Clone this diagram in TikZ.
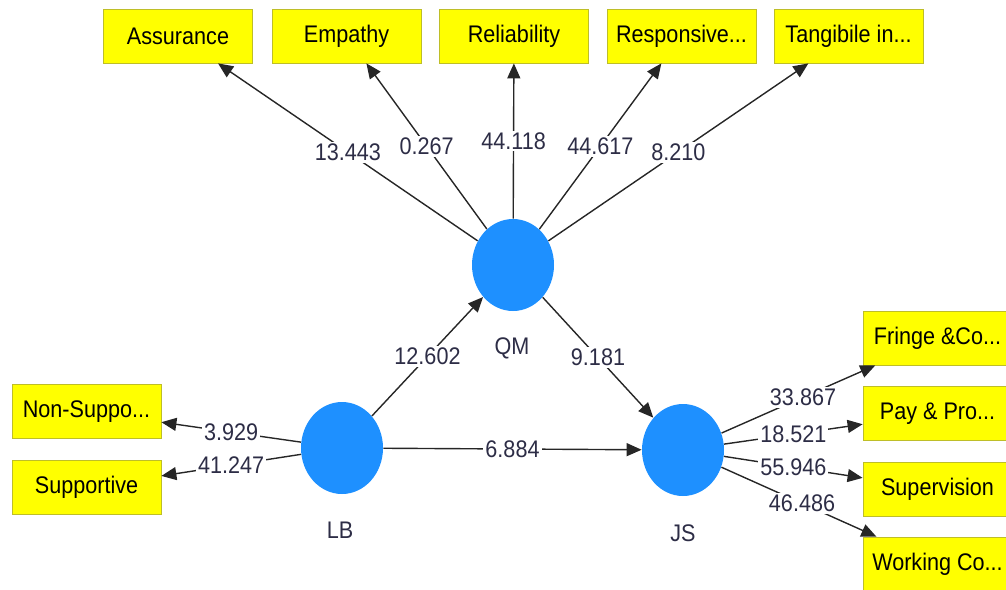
\documentclass[tikz,border=0pt]{standalone}
\usepackage{fontspec}
\setmainfont[FakeStretch=0.9]{Liberation Sans}
\usetikzlibrary{arrows.meta,shapes.geometric}
\definecolor{boxfill}{RGB}{255,255,0}
\definecolor{boxline}{RGB}{190,190,40}
\definecolor{latent}{RGB}{30,144,255}
\definecolor{numtext}{RGB}{45,45,70}
\tikzset{
  item/.style={draw=boxline, fill=boxfill, minimum width=74.5pt, minimum height=27pt,
    inner sep=1pt, text=black, font=\fontsize{12}{14}\selectfont},
  construct/.style={ellipse, fill=latent, minimum width=41pt, minimum height=46pt, inner sep=0pt},
  link/.style={line width=0.7pt, black!85, -{Triangle[length=7.5pt,width=6.5pt]}},
  weight/.style={fill=white, inner sep=1pt, text=numtext, font=\fontsize{12}{14}\selectfont},
  tag/.style={text=numtext, font=\fontsize{12}{14}\selectfont}
}

\begin{document}
\begin{tikzpicture}[x=0.5pt, y=-0.5pt]

\path[use as bounding box, clip] (0,0) rectangle (1006,589);

% constructs
\node[construct] (QM) at (513,265) {};
\node[construct] (LB) at (342,448) {};
\node[construct] (JS) at (683,450) {};
\node[tag] (QMtag) at (512,348) {QM};
\node[tag] (LBtag) at (340,530) {LB};
\node[tag] (JStag) at (683,533) {JS};

% indicators
\node[item] (assurance)   at (178,36)    {Assurance};
\node[item] (empathy)     at (346.5,36)  {Empathy};
\node[item] (reliability) at (514,36)    {Reliability};
\node[item] (responsive)  at (681.5,36)  {Responsive...};
\node[item] (tangible)    at (848.5,36)  {Tangibile in...};
\node[item] (nonsupp)     at (86.5,411.5) {Non-Suppo...};
\node[item] (supportive)  at (86.5,487.5) {Supportive};
\node[item] (fringe)      at (937.5,338)   {Fringe \&Co...};
\node[item] (pay)         at (937.5,413.5) {Pay \& Pro...};
\node[item] (supervision) at (937.5,489.5) {Supervision};
\node[item] (working)     at (937.5,564)   {Working Co...};

\draw[link] (QM) -- node[weight] {13.443} (assurance);
\draw[link] (QM) -- node[weight] {0.267} (empathy);
\draw[link] (QM) -- node[weight] {44.118} (reliability);
\draw[link] (QM) -- node[weight] {44.617} (responsive);
\draw[link] (QM) -- node[weight] {8.210} (tangible);

\draw[link] (LB) -- node[weight] {12.602} (QM);
\draw[link] (QM) -- node[weight] {9.181} (JS);
\draw[link] (LB) -- node[weight] {6.884} (JS);

\draw[link] (LB) -- node[weight] {3.929} (nonsupp);
\draw[link] (LB) -- node[weight] {41.247} (supportive);

\draw[link] (JS) -- node[weight, pos=0.53] {33.867} (fringe);
\draw[link] (JS) -- node[weight] {18.521} (pay);
\draw[link] (JS) -- node[weight] {55.946} (supervision);
\draw[link] (JS) -- node[weight, pos=0.52] {46.486} (working);

\end{tikzpicture}
\end{document}
